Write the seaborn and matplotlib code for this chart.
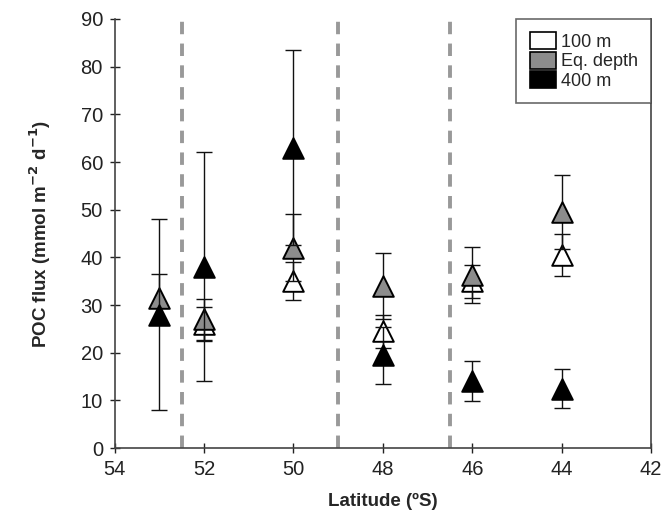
import numpy as np
import pandas as pd
import matplotlib
matplotlib.use("Agg")
import matplotlib.pyplot as plt
from matplotlib.patches import Patch
import seaborn as sns

# Data
lat_100 = [52, 50, 48, 46, 44]
poc_100 = [26.0, 35.0, 24.5, 35.0, 40.5]
err_100 = [3.5, 4.0, 3.5, 3.5, 4.3]

lat_eq = [53, 52, 50, 48, 46, 44]
poc_eq = [31.5, 27.0, 42.0, 34.0, 36.3, 49.5]
err_eq = [5.0, 4.3, 7.0, 7.0, 5.8, 7.8]

lat_400 = [53, 52, 50, 48, 46, 44]
poc_400 = [28.0, 38.0, 63.0, 19.5, 14.0, 12.5]
err_400 = [20.0, 24.0, 20.5, 6.0, 4.2, 4.0]

front_lats = [52.5, 49.0, 46.5]
series_names = ["100 m", "Eq. depth", "400 m"]
series_colors = ["white", "#8c8c8c", "black"]

df = pd.concat([
    pd.DataFrame({"lat": lat_100, "poc": poc_100, "err": err_100, "depth": "100 m"}),
    pd.DataFrame({"lat": lat_eq, "poc": poc_eq, "err": err_eq, "depth": "Eq. depth"}),
    pd.DataFrame({"lat": lat_400, "poc": poc_400, "err": err_400, "depth": "400 m"}),
], ignore_index=True)

sns.set_style("ticks")
plt.rcParams["font.family"] = ["Liberation Sans", "DejaVu Sans"]

fig = plt.figure(figsize=(6.63, 5.26), dpi=100)
ax = fig.add_axes([0.173, 0.148, 0.809, 0.816])

for x in front_lats:
    ax.axvline(x, color="#999999", lw=2.8, ls=(0, (3.2, 2.4)), zorder=1)

for i, (name, color) in enumerate(zip(series_names, series_colors)):
    sub = df[df["depth"] == name]
    ax.errorbar(sub["lat"], sub["poc"], yerr=sub["err"], fmt="none",
                ecolor="#111111", elinewidth=1.0, capsize=5.5, capthick=1.0,
                zorder=2 + 2 * i)
    sns.scatterplot(data=sub, x="lat", y="poc", marker="^", s=220,
                    color=color, edgecolor="black", linewidth=1.4,
                    ax=ax, zorder=3 + 2 * i, legend=False)

ax.set_xlim(54, 42)
ax.set_ylim(0, 90)
ax.set_xticks(np.arange(54, 41, -2))
ax.set_yticks(np.arange(0, 91, 10))
ax.tick_params(direction="inout", length=7, width=1, labelsize=14.5, colors="#222222", pad=5)

for side in ["left", "bottom", "right"]:
    ax.spines[side].set_color("#444444")
    ax.spines[side].set_linewidth(1.2)
ax.spines["top"].set_visible(False)

ax.set_xlabel("Latitude (ºS)", fontsize=13.5, fontweight="bold", labelpad=10)
ax.set_ylabel("POC flux (mmol m$^{\\mathbf{-2}}$ d$^{\\mathbf{-1}}$)", fontsize=13.5,
              fontweight="bold", labelpad=20)

handles = [Patch(facecolor=c, edgecolor="black", lw=1.2, label=n)
           for n, c in zip(series_names, series_colors)]
leg = ax.legend(handles=handles, loc="upper right", bbox_to_anchor=(1.0, 1.0),
                frameon=True, fancybox=False, fontsize=13, handlelength=1.45,
                handleheight=1.05, handletextpad=0.25, labelspacing=0.05,
                borderpad=0.75, borderaxespad=0)
leg.get_frame().set_edgecolor("#444444")
leg.get_frame().set_linewidth(1.2)

fig.savefig("out.png", dpi=100)
